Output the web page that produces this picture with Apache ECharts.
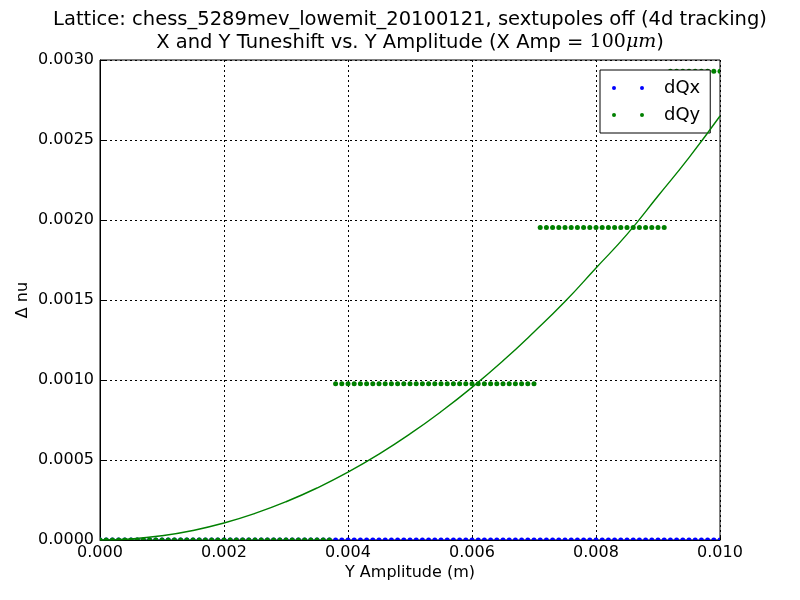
<!DOCTYPE html>
<html>
<head>
<meta charset="utf-8">
<script src="https://cdn.jsdelivr.net/npm/echarts@6/dist/echarts.min.js"></script>
<style>html,body{margin:0;padding:0;background:#fff}#c{width:800px;height:600px}</style>
</head>
<body>
<div id="c"></div>
<script>
// Y amplitude (m) of each tracked particle
const ampY = [
  0.0000,0.0001,0.0002,0.0003,0.0004,0.0005,0.0006,0.0007,0.0008,0.0009,
  0.0010,0.0011,0.0012,0.0013,0.0014,0.0015,0.0016,0.0017,0.0018,0.0019,
  0.0020,0.0021,0.0022,0.0023,0.0024,0.0025,0.0026,0.0027,0.0028,0.0029,
  0.0030,0.0031,0.0032,0.0033,0.0034,0.0035,0.0036,0.0037,0.0038,0.0039,
  0.0040,0.0041,0.0042,0.0043,0.0044,0.0045,0.0046,0.0047,0.0048,0.0049,
  0.0050,0.0051,0.0052,0.0053,0.0054,0.0055,0.0056,0.0057,0.0058,0.0059,
  0.0060,0.0061,0.0062,0.0063,0.0064,0.0065,0.0066,0.0067,0.0068,0.0069,
  0.0070,0.0071,0.0072,0.0073,0.0074,0.0075,0.0076,0.0077,0.0078,0.0079,
  0.0080,0.0081,0.0082,0.0083,0.0084,0.0085,0.0086,0.0087,0.0088,0.0089,
  0.0090,0.0091,0.0092,0.0093,0.0094,0.0095,0.0096,0.0097,0.0098,0.0099,
  0.0100
];
// dQx tuneshift
const dQx = [
  0,0,0,0,0,0,0,0,0,0,
  0,0,0,0,0,0,0,0,0,0,
  0,0,0,0,0,0,0,0,0,0,
  0,0,0,0,0,0,0,0,0,0,
  0,0,0,0,0,0,0,0,0,0,
  0,0,0,0,0,0,0,0,0,0,
  0,0,0,0,0,0,0,0,0,0,
  0,0,0,0,0,0,0,0,0,0,
  0,0,0,0,0,0,0,0,0,0,
  0,0,0,0,0,0,0,0,0,0,
  0
];
// dQy tuneshift
const dQy = [
  0,0,0,0,0,0,0,0,0,0,
  0,0,0,0,0,0,0,0,0,0,
  0,0,0,0,0,0,0,0,0,0,
  0,0,0,0,0,0,0,0,0.000977,0.000977,
  0.000977,0.000977,0.000977,0.000977,0.000977,0.000977,0.000977,0.000977,0.000977,0.000977,
  0.000977,0.000977,0.000977,0.000977,0.000977,0.000977,0.000977,0.000977,0.000977,0.000977,
  0.000977,0.000977,0.000977,0.000977,0.000977,0.000977,0.000977,0.000977,0.000977,0.000977,
  0.000977,0.001953,0.001953,0.001953,0.001953,0.001953,0.001953,0.001953,0.001953,0.001953,
  0.001953,0.001953,0.001953,0.001953,0.001953,0.001953,0.001953,0.001953,0.001953,0.001953,
  0.001953,0.001953,0.00293,0.00293,0.00293,0.00293,0.00293,0.00293,0.00293,0.00293,
  0.00293
];
// fitted curve
const fitX = [0,0.0005,0.001,0.0015,0.002,0.0025,0.003,0.0035,0.004,0.0045,0.005,
              0.0055,0.006,0.0065,0.007,0.0075,0.008,0.0085,0.009,0.0095,0.01];
const fitY = [0,0.0000066,0.0000265,0.0000596,0.000106,0.000166,0.000239,0.000325,0.000424,0.000537,0.000663,
              0.000802,0.000954,0.00112,0.0013,0.00149,0.0017,0.00191,0.00215,0.00239,0.00265];
const xTicks = ['0.000','0.002','0.004','0.006','0.008','0.010'];
const yTicks = ['0.0000','0.0005','0.0010','0.0015','0.0020','0.0025','0.0030'];

const pair = (xs, ys) => xs.map((x, i) => [x, ys[i]]);
const FONT = 'DejaVu Sans';
const twoDots = 'path://M0,2a2,2 0 1,0 4,0a2,2 0 1,0 -4,0M28,2a2,2 0 1,0 4,0a2,2 0 1,0 -4,0';

function dotRenderer(color) {
  return function (params, api) {
    const p = api.coord([api.value(0), api.value(1)]);
    return {type: 'circle', shape: {cx: p[0], cy: p[1], r: 2.5}, style: {fill: color, stroke: null}};
  };
}

const chart = echarts.init(document.getElementById('c'), null, {renderer: 'canvas'});
chart.setOption({
  animation: false,
  backgroundColor: '#fff',
  textStyle: {fontFamily: FONT},
  title: {
    text: 'Lattice: chess_5289mev_lowemit_20100121, sextupoles off (4d tracking)\n{a|X and Y Tuneshift vs. Y Amplitude (X Amp = }{b|100}{c|μm}{a|)}',
    left: 405, top: 3, textAlign: 'center',
    textStyle: {
      fontFamily: FONT, fontSize: 19.5, fontWeight: 'normal', color: '#000', lineHeight: 23,
      rich: {
        a: {fontFamily: FONT, fontSize: 19.5, color: '#000', lineHeight: 23},
        b: {fontFamily: 'DejaVu Serif', fontSize: 19, color: '#000', lineHeight: 23},
        c: {fontFamily: 'DejaVu Serif', fontStyle: 'italic', fontSize: 19, color: '#000', lineHeight: 23}
      }
    }
  },
  grid: {left: 100, right: 80, top: 60, bottom: 60, show: true, borderColor: '#000', borderWidth: 1, backgroundColor: 'transparent'},
  legend: {
    orient: 'vertical', left: 600, top: 70,
    backgroundColor: '#fff', borderColor: '#000', borderWidth: 1,
    padding: [8, 10, 8, 12], itemGap: 7,
    itemWidth: 32, itemHeight: 4,
    textStyle: {fontFamily: FONT, fontSize: 18, color: '#000', lineHeight: 20, padding: [0, 0, 0, 15]},
    data: [
      {name: 'dQx', icon: twoDots, itemStyle: {color: '#0000ff'}},
      {name: 'dQy', icon: twoDots, itemStyle: {color: '#008000'}}
    ]
  },
  xAxis: {
    type: 'value', min: 0, max: 0.01, interval: 0.002,
    name: 'Y Amplitude (m)', nameLocation: 'middle', nameGap: 25, nameMoveOverlap: false,
    nameTextStyle: {fontFamily: FONT, fontSize: 16, color: '#000'},
    axisLine: {show: true, lineStyle: {color: '#000'}},
    axisTick: {show: true, inside: true, length: 5, lineStyle: {color: '#000'}},
    axisLabel: {fontFamily: FONT, fontSize: 16, color: '#000', margin: 5,
      formatter: (v) => xTicks[Math.round(v / 0.002)]},
    splitLine: {show: true, lineStyle: {color: '#000', type: [2, 3], width: 1}}
  },
  yAxis: {
    type: 'value', min: 0, max: 0.003, interval: 0.0005,
    name: 'Δ nu', nameLocation: 'middle', nameGap: 69, nameRotate: 90, nameMoveOverlap: false,
    nameTextStyle: {fontFamily: FONT, fontSize: 16, color: '#000'},
    axisLine: {show: true, lineStyle: {color: '#000'}},
    axisTick: {show: true, inside: true, length: 5, lineStyle: {color: '#000'}},
    axisLabel: {fontFamily: FONT, fontSize: 16, color: '#000', margin: 6,
      formatter: (v) => yTicks[Math.round(v / 0.0005)]},
    splitLine: {show: true, lineStyle: {color: '#000', type: [2, 3], width: 1}}
  },
  series: [
    {
      name: 'dQx', type: 'custom', data: pair(ampY, dQx), clip: true,
      renderItem: dotRenderer('#0000ff'), itemStyle: {color: '#0000ff'}, z: 2
    },
    {
      name: 'dQy', type: 'custom', data: pair(ampY, dQy), clip: true,
      renderItem: dotRenderer('#008000'), itemStyle: {color: '#008000'}, z: 3
    },
    {
      name: 'fit', type: 'line', data: pair(fitX, fitY), smooth: true,
      showSymbol: false, lineStyle: {color: '#008000', width: 1.4}, itemStyle: {color: '#008000'}, z: 4
    }
  ]
});
</script>
</body>
</html>
